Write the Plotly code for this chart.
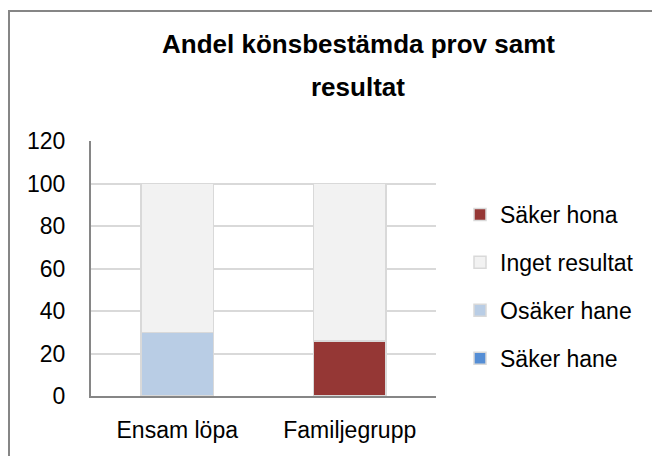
import plotly.graph_objects as go

categories = ["Ensam löpa", "Familjegrupp"]
# stacked from bottom to top
series_names = ["Säker hane", "Osäker hane", "Säker hona", "Inget resultat"]
saker_hane = [0, 0]
osaker_hane = [30, 0]
saker_hona = [0, 26]
inget_resultat = [70, 74]
legend_rank = [4, 3, 1, 2]
y_ticks = [0, 20, 40, 60, 80, 100, 120]
title_lines = ["Andel könsbestämda prov samt", "resultat"]

colors = ["#558ed5", "#b9cde5", "#953735", "#f2f2f2"]
values = [saker_hane, osaker_hane, saker_hona, inget_resultat]

FONT = "Liberation Sans"
fig = go.Figure()
for i, (name, vals, col, rk) in enumerate(zip(series_names, values, colors, legend_rank)):
    fig.add_trace(go.Bar(
        x=categories, y=vals, name=name, legendgroup=f"g{i}", legendrank=rk,
        marker=dict(color=col, line=dict(color="#d9d9d9", width=1.5)),
        width=0.42,
    ))

# page body has an 8px margin; work in figure coordinates
W, H = 652, 448
L, R, T, B = 83, 224, 133, 60
pw, ph = W - L - R, H - T - B

def px(x):
    return (x - L) / pw

def py(y):
    return (H - B - y) / ph

fig.update_layout(
    width=W, height=H,
    margin=dict(l=L, r=R, t=T, b=B),
    barmode="stack",
    plot_bgcolor="white", paper_bgcolor="white",
    font=dict(family=FONT, size=23, color="#000000"),
    showlegend=True,
    legend=dict(
        traceorder="grouped",
        tracegroupgap=15,
        x=px(452), xanchor="left",
        y=py(185), yanchor="top",
        font=dict(size=23),
        itemwidth=30,
        bgcolor="rgba(0,0,0,0)",
    ),
    xaxis=dict(
        showline=True, linecolor="#868686", linewidth=2,
        showgrid=False, ticks="", ticklabelstandoff=12,
        tickfont=dict(size=23),
    ),
    yaxis=dict(
        range=[0, 120], tickvals=y_ticks,
        showline=True, linecolor="#868686", linewidth=2,
        showgrid=True, gridcolor="#d9d9d9", gridwidth=1.5,
        ticks="", ticklabelstandoff=19, zeroline=False,
        tickfont=dict(size=23),
    ),
    shapes=[dict(
        type="rect", xref="paper", yref="paper",
        x0=px(1), x1=px(700), y0=py(3), y1=py(500),
        line=dict(color="#868686", width=2), fillcolor="rgba(0,0,0,0)",
        layer="above",
    )],
    annotations=[
        dict(text=f"<b>{title_lines[0]}</b>", xref="paper", yref="paper",
             x=px(350), y=py(36), xanchor="center", yanchor="middle",
             showarrow=False, font=dict(size=26, family=FONT)),
        dict(text=f"<b>{title_lines[1]}</b>", xref="paper", yref="paper",
             x=px(350), y=py(79), xanchor="center", yanchor="middle",
             showarrow=False, font=dict(size=26, family=FONT)),
    ],
)

fig.write_html("out.html")
